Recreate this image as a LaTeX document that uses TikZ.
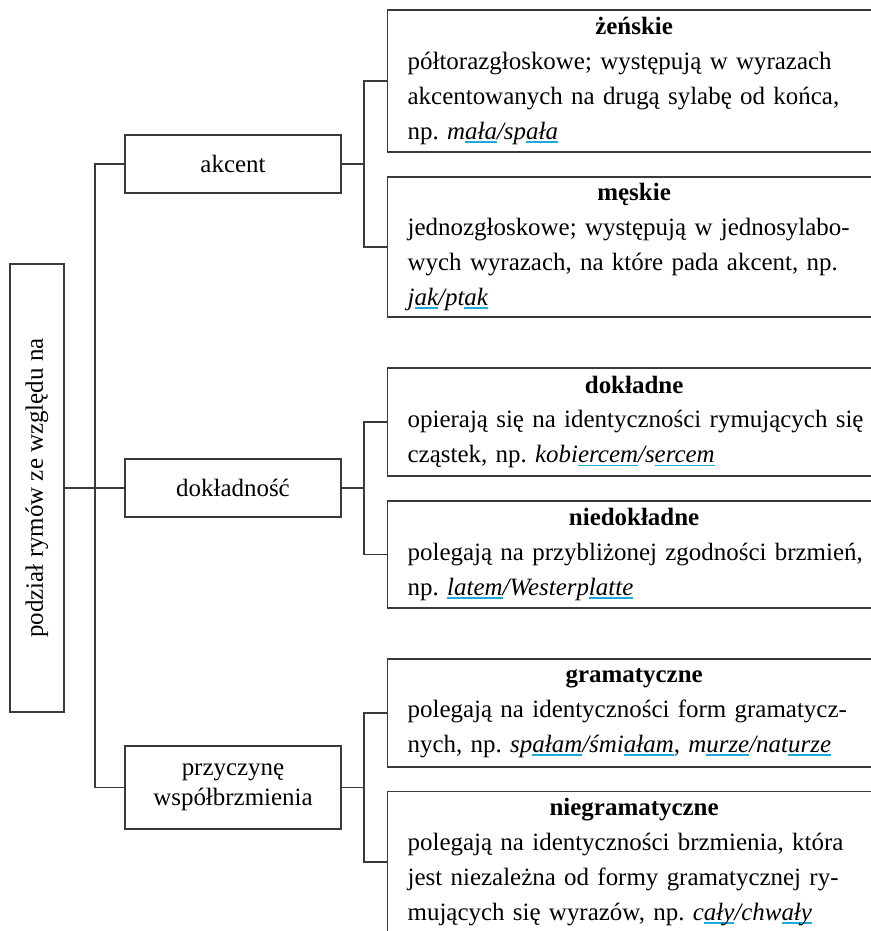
\documentclass[tikz,border=0pt]{standalone}
\usepackage{fontspec}
\setmainfont{Liberation Serif}
\usepackage{graphicx}
\usetikzlibrary{positioning}
\definecolor{rymcolor}{HTML}{1EA8DC}
\definecolor{linecolor}{HTML}{3A3A3A}
\newlength{\leafw}
\setlength{\leafw}{9.06cm}
\newsavebox{\rymbox}
\newcommand{\rym}[1]{\sbox{\rymbox}{#1}\rlap{\textcolor{rymcolor}{\rule[-2pt]{\wd\rymbox}{0.9pt}}}\usebox{\rymbox}}
\newcommand{\pelna}[1]{\makebox[\leafw][s]{#1}}
\frenchspacing
\tikzset{
	basenode/.style={
			draw=linecolor,
			line width=0.75pt,
			inner sep=0pt,
			font=\fontsize{14.2}{19.85}\selectfont
		},
	rootnode/.style={
			basenode,
			minimum width=1.08cm,
			minimum height=8.96cm
		},
	midnode/.style={
			basenode,
			minimum width=4.32cm,
			minimum height=1.16cm,
			align=center
		},
	leafnode/.style={
			basenode,
			anchor=west,
			text width=\leafw,
			inner xsep=0.4cm,
			align=left
		},
	link/.style={
			draw=linecolor,
			line width=0.6pt
		}
}

\begin{document}
\begin{tikzpicture}[x=0.02cm, y=0.02cm]
\useasboundingbox (0,0) rectangle (871,931);
\clip (0,0) rectangle (871,931);

\node[rootnode] (root) at (37,443) {\rotatebox{90}{podział rymów ze względu na}};

\node[midnode] (akc) at (233,767) {akcent};
\node[midnode] (dok) at (233,443) {dokładność};
\node[midnode, minimum height=1.66cm, font=\fontsize{14.2}{17}\selectfont] (prz) at (233,143.5) {przyczynę\\współbrzmienia};

\node[leafnode, minimum height=2.84cm] (zen) at (387,850) {\makebox[\leafw]{\bfseries żeńskie}\\
półtorazgłoskowe; występują w wyrazach\\
\pelna{akcentowanych na drugą sylabę od końca,}\\
np. \textit{m\rym{ała}/sp\rym{ała}}};
\node[leafnode, minimum height=2.8cm] (mes) at (387,684) {\makebox[\leafw]{\bfseries męskie}\\
\pelna{jednozgłoskowe; występują w jednosylabo-}\\
\pelna{wych wyrazach, na które pada akcent, np.}\\
\textit{j\rym{ak}/pt\rym{ak}}};
\node[leafnode, minimum height=2.16cm] (dokn) at (387,509) {\makebox[\leafw]{\bfseries dokładne}\\
\pelna{opierają się na identyczności rymujących się}\\
cząstek, np. \textit{kobi\rym{ercem}/s\rym{ercem}}};
\node[leafnode, minimum height=2.14cm] (niedok) at (387,376.5) {\makebox[\leafw]{\bfseries niedokładne}\\
\pelna{polegają na przybliżonej zgodności brzmień,}\\
np. \textit{\rym{latem}/Westerp\rym{latte}}};
\node[leafnode, minimum height=2.16cm] (gram) at (387,218) {\makebox[\leafw]{\bfseries gramatyczne}\\
\pelna{polegają na identyczności form gramatycz-}\\
nych, np. \textit{sp\rym{ałam}/śmi\rym{ałam}}, \textit{m\rym{urze}/nat\rym{urze}}};
\node[leafnode, minimum height=2.82cm] (niegram) at (387,69) {\makebox[\leafw]{\bfseries niegramatyczne}\\
\pelna{polegają na identyczności brzmienia, która}\\
\pelna{jest niezależna od formy gramatycznej ry-}\\
mujących się wyrazów, np. \textit{c\rym{ały}/chw\rym{ały}}};

\coordinate (t) at (95,443);
\coordinate (a) at (364,767);
\coordinate (b) at (364,443);
\coordinate (c) at (364,143.5);

\draw[link] (root.east) -- (dok.west);
\draw[link] (akc.west) -| (t) |- (prz.west);
\draw[link] (akc.east) -- (a);
\draw[link] (zen.west) -| (a) |- (mes.west);
\draw[link] (dok.east) -- (b);
\draw[link] (dokn.west) -| (b) |- (niedok.west);
\draw[link] (prz.east) -- (c);
\draw[link] (gram.west) -| (c) |- (niegram.west);

\end{tikzpicture}
\end{document}
